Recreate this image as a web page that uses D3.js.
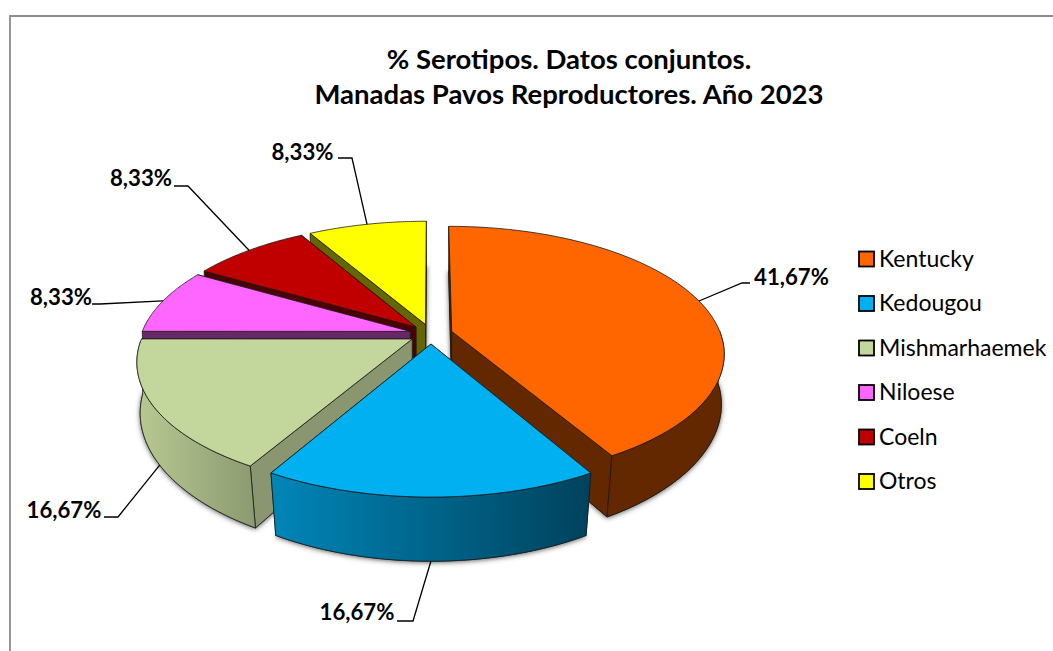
<!DOCTYPE html>
<html><head><meta charset="utf-8">
<script src="https://cdnjs.cloudflare.com/ajax/libs/d3/7.8.5/d3.min.js"></script>
<style>html,body{margin:0;padding:0;background:#fff}svg{display:block}text{font-family:Lato,"Open Sans",sans-serif;fill:#000}</style>
</head><body><svg id="c" width="1053" height="651"></svg>
<script>
const titleLines = ["% Serotipos. Datos conjuntos.", "Manadas Pavos Reproductores. Año 2023"];
const categories = ["Kentucky", "Kedougou", "Mishmarhaemek", "Niloese", "Coeln", "Otros"];
const values = [41.67, 16.67, 16.67, 8.33, 8.33, 8.33];
const valueLabels = ["41,67%", "16,67%", "16,67%", "8,33%", "8,33%", "8,33%"];
const topColors = ["#FF6600", "#00B0F0", "#C3D69B", "#FF66FF", "#C00000", "#FFFF00"];
const wallColors = ["#642800", "#0070A0", "#8A9670", "#662966", "#4D0000", "#666600"];
const rimStops = [["#642800", "#642800"], ["#0086B8", "#00425C"], ["#B8C992", "#8C9A70"],
                  ["#662966", "#662966"], ["#4D0000", "#4D0000"], ["#666600", "#666600"]];
const drawOrder = [5, 4, 3, 2, 0, 1];

// layout of the leader lines: elbow and end of each, and label centre
const leaderLayout = [
  {elbow:[742,283], end:[750,283], label:[791.5,277]},
  {elbow:[413,621], end:[397,621], label:[357,612]},
  {elbow:[118,517], end:[104,517], label:[64,510]},
  {elbow:[100,304], end:[92,304], label:[61,297]},
  {elbow:[188,186], end:[174,186], label:[141,178]},
  {elbow:[352,158], end:[338,158], label:[302.5,152]}
];

// projection of the tilted pie
const cx = 431, cy = 334, scaleU = 269, scaleV = 123.6, persp = 0.168,
      depth = 52.5, shrinkBase = 0.006, shrinkFront = 0.026, explode = 0.08;
const project = (u, v, z) => {
  const w = 1 - persp * v;
  const shrink = shrinkBase + shrinkFront * Math.max(v, 0);
  return [cx + scaleU * u / (w * (1 + shrink * z)), cy + (scaleV * v + depth * z) / w];
};

const svg = d3.select("#c");
const defs = svg.append("defs");
const f = defs.append("filter").attr("id","sh").attr("x","-20%").attr("y","-20%").attr("width","140%").attr("height","140%");
f.append("feDropShadow").attr("dx",0).attr("dy",1).attr("stdDeviation",2.6).attr("flood-color","#444").attr("flood-opacity",0.85);
rimStops.forEach((s,i) => {
  const g = defs.append("linearGradient").attr("id","rim"+i).attr("x1",0).attr("x2",1).attr("y1",0).attr("y2",0);
  g.append("stop").attr("offset",0).attr("stop-color",s[0]);
  g.append("stop").attr("offset",1).attr("stop-color",s[1]);
});

// frame
svg.append("path").attr("d","M10,651V16H1053").attr("fill","none").attr("stroke","#8c8c8c").attr("stroke-width",1.8);

// title
svg.append("g").selectAll("text").data(titleLines).join("text")
  .attr("x",569).attr("y",(d,i)=>69+i*35).attr("text-anchor","middle")
  .attr("font-size",27.5).attr("font-weight",700).text(d=>d);

const arcs = d3.pie().sort(null).value(d=>d)(values);
const line = d3.line();
const angleRange = (a0,a1) => d3.range(0,61).map(i => a0+(a1-a0)*i/60);

const geom = arcs.map(a => {
  const mid = (a.startAngle+a.endAngle)/2;
  const u0 = explode*Math.sin(mid), v0 = -explode*Math.cos(mid);
  const rim = (t,z) => project(u0+Math.sin(t), v0-Math.cos(t), z);
  return {a, mid, u0, v0, rim, apex:z=>project(u0,v0,z)};
});

const pie = svg.append("g");
drawOrder.forEach(i => {
  const s = geom[i], {startAngle:a0, endAngle:a1} = s.a;
  const ts = angleRange(a0,a1);
  const g = pie.append("g");
  const add = (pts,fill,filt) => {
    const p = g.append("path").attr("d",line(pts)+"Z").attr("fill",fill)
      .attr("stroke","#1a1a1a").attr("stroke-width",0.8).attr("stroke-linejoin","round");
    if(filt) p.attr("filter","url(#sh)");
    return p;
  };
  // floor of the slice carries the soft shadow
  add([s.apex(1),...ts.map(t=>s.rim(t,1))], wallColors[i], true);
  // cut faces, the one nearer the back first
  const cuts = [a0,a1].sort((p,q)=>Math.cos(q)-Math.cos(p));
  cuts.forEach(t => add([s.apex(0),s.rim(t,0),s.rim(t,1),s.apex(1)], wallColors[i]));
  // outer wall, only where it faces the viewer
  const front = ts.filter(t => Math.cos(t) < 0);
  if (front.length > 1)
    add([...front.map(t=>s.rim(t,0)),...front.slice().reverse().map(t=>s.rim(t,1))], "url(#rim"+i+")");
  // top
  add([s.apex(0),...ts.map(t=>s.rim(t,0))], topColors[i]);
});

// leader lines start on the rim at each slice's middle angle
const leaderZ = [0,1,1,0,0,0];
svg.append("g").selectAll("path").data(geom).join("path")
  .attr("d",(s,i)=>line([s.rim(s.mid,leaderZ[i]),leaderLayout[i].elbow,leaderLayout[i].end]))
  .attr("fill","none").attr("stroke","#000").attr("stroke-width",1.3);

svg.append("g").selectAll("text").data(valueLabels).join("text")
  .attr("x",(d,i)=>leaderLayout[i].label[0]).attr("y",(d,i)=>leaderLayout[i].label[1])
  .attr("dy","0.35em").attr("text-anchor","middle")
  .attr("font-size",22.2).attr("font-weight",700).text(d=>d);

// legend
const legendY = d3.scalePoint().domain(categories).range([258.5,481]);
const leg = svg.append("g").selectAll("g").data(categories).join("g")
  .attr("transform",d=>`translate(859,${legendY(d)})`);
leg.append("rect").attr("x",0).attr("y",-7).attr("width",15).attr("height",15)
  .attr("fill",(d,i)=>topColors[i]).attr("stroke","#000").attr("stroke-width",1.8);
leg.append("text").attr("x",20).attr("dy","0.35em").attr("font-size",23).text(d=>d);
</script></body></html>
